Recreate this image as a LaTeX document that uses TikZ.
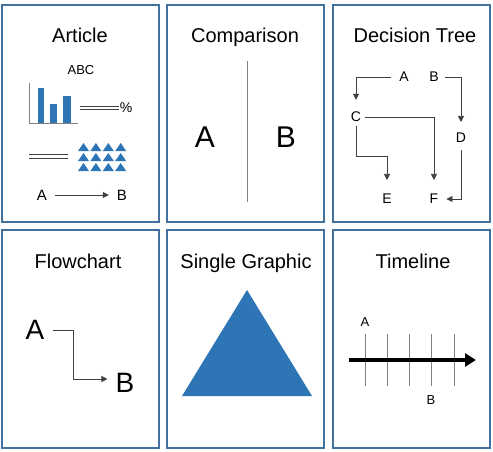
\documentclass[tikz,border=0pt]{standalone}
\usepackage{fontspec}
\setmainfont{Liberation Sans}
\usetikzlibrary{arrows.meta}
\definecolor{colBorde}{HTML}{41719C}
\definecolor{colGrafico}{HTML}{2E75B6}
\definecolor{colLinea}{HTML}{404040}
\colorlet{colEje}{gray}

\begin{document}
\begin{tikzpicture}[x=1pt, y=-1pt,
    panel/.style={draw=colBorde, line width=2.5pt},
    titulo/.style={font=\fontsize{20}{24}\selectfont, anchor=base, inner sep=0pt},
    letra/.style={font=\fontsize{14}{17}\selectfont, inner sep=4pt},
    letragrande/.style={font=\fontsize{30}{36}\selectfont, inner sep=4pt},
    flecha/.style={draw=colLinea, line width=0.7pt, -{Triangle[length=6pt,width=6pt]}}]
    \useasboundingbox (0,0) rectangle (493,452);

    % Paneles
    \draw[panel] (2,5) rectangle (159,222);
    \draw[panel] (167,5) rectangle (324,222);
    \draw[panel] (333,5) rectangle (490,222);
    \draw[panel] (2,230) rectangle (159,448);
    \draw[panel] (167,230) rectangle (324,448);
    \draw[panel] (333,230) rectangle (490,448);

    % Article
    \node[titulo] (tArticulo) at (80,43) {Article};
    \node[letra, font=\fontsize{13}{16}\selectfont] (abc) at (81,70) {ABC};
    \draw[colEje] (29,83) -- (29,123) -- (78,123);
    \fill[colGrafico] (38,88) rectangle (44,123);
    \fill[colGrafico] (50,104) rectangle (57,123);
    \fill[colGrafico] (63,96) rectangle (71,123);
    \draw[colLinea] (80,106) -- (119,106) (80,109) -- (119,109);
    \node[letra, inner sep=0pt] (pct) at (126,107.5) {\%};
    \draw[colLinea] (29,154) -- (68,154) (29,158) -- (68,158);
    \foreach \col in {0,...,3}
        \foreach \fila in {0,1,2}
            \fill[colGrafico] ({78+12.4*\col},{151+10*\fila}) -- ++(11,0) -- ++(-5.5,-8) -- cycle;
    \node[letra, font=\fontsize{15}{18}\selectfont] (aA) at (42,195) {A};
    \node[letra, font=\fontsize{15}{18}\selectfont] (aB) at (122,195) {B};
    \draw[flecha, shorten <=4pt, shorten >=4pt] (aA) -- (aB);

    % Comparison
    \node[titulo] (tComparacion) at (245,43) {Comparison};
    \draw[colEje, line width=1pt] (247,61) -- (247,202);
    \node[letragrande] (cA) at (205,137) {A};
    \node[letragrande] (cB) at (286,137) {B};

    % Decision Tree
    \node[titulo] (tArbol) at (415,43) {Decision Tree};
    \node[letra] (dA) at (404,77) {A};
    \node[letra] (dB) at (434,77) {B};
    \node[letra] (dC) at (356,117) {C};
    \node[letra] (dD) at (461,138) {D};
    \node[letra] (dE) at (387,199) {E};
    \node[letra] (dF) at (434,199) {F};
    \coordinate (codoCE) at (356,156);
    \draw[flecha, shorten <=4pt, shorten >=8pt] (dA) -| (dC);
    \draw[flecha, shorten <=2pt, shorten >=7pt] (dB) -| (dD);
    \draw[flecha, shorten >=10pt] (dC) -| (dF);
    \draw[flecha, shorten >=10pt] (dC) -- (codoCE) -| (dE);
    \draw[flecha, shorten <=3pt, shorten >=4pt] (dD) |- (dF);

    % Flowchart
    \node[titulo] (tFlujo) at (78,268) {Flowchart};
    \node[letragrande, font=\fontsize{28}{34}\selectfont] (fA) at (35,330) {A};
    \node[letragrande, font=\fontsize{28}{34}\selectfont] (fB) at (125,383) {B};
    \draw[flecha, shorten >=4pt] ([xshift=4pt]fA.east) -- ++(21,0) |- ([yshift=4pt]fB.west);

    % Single Graphic
    \node[titulo] (tGrafico) at (246,268) {Single Graphic};
    \fill[colGrafico] (247,290) -- (312,396) -- (182,396) -- cycle;

    % Timeline
    \node[titulo] (tLinea) at (413,268) {Timeline};
    \foreach \x in {365,387,409,431,454}
        \draw[colEje, line width=0.8pt] (\x,334) -- (\x,386);
    \coordinate (tIni) at (349,360);
    \coordinate (tFin) at (476,360);
    \draw[line width=3.5pt, -{Triangle[length=11pt,width=13pt]}] (tIni) -- (tFin);
    \node[letra, font=\fontsize{13}{16}\selectfont] (tA) at (365,322) {A};
    \node[letra, font=\fontsize{13}{16}\selectfont] (tB) at (431,400) {B};
\end{tikzpicture}
\end{document}
